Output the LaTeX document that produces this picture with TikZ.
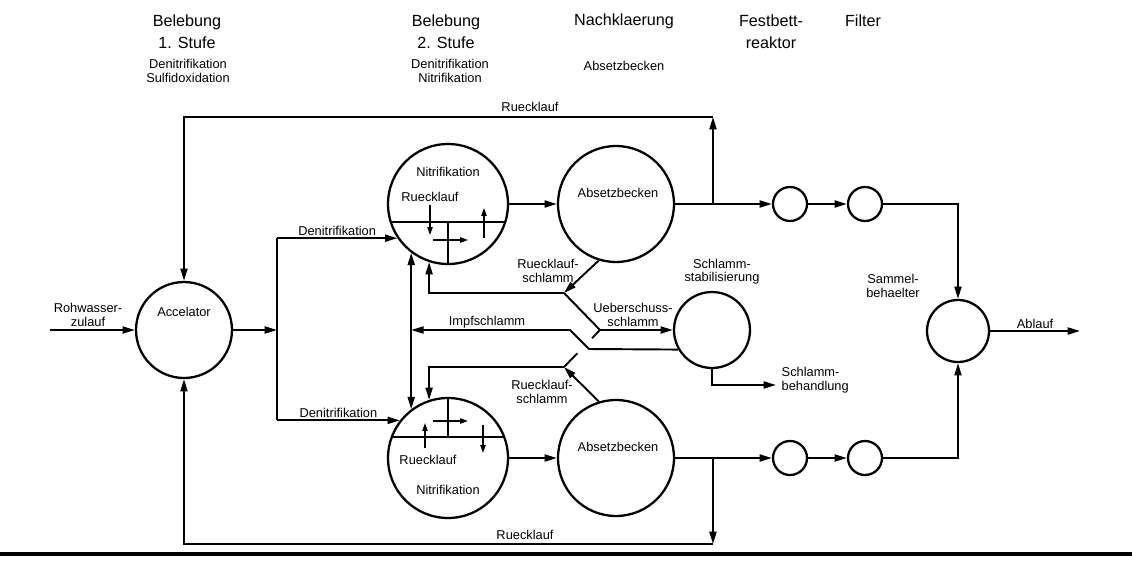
\documentclass[tikz,border=0pt]{standalone}
\usepackage{fontspec}
\setmainfont{Liberation Sans}
\usepackage{tikz}
\usetikzlibrary{arrows.meta,positioning,calc}

\begin{document}
\begin{tikzpicture}[x=0.02cm, y=-0.02cm, line width=1.1pt, >={Triangle[length=7pt,width=4pt]},
  tank node/.style={circle,draw,line width=1.3pt,inner sep=0pt},
  txt/.style={font=\fontsize{7.3}{7.6}\selectfont,align=center,inner sep=1pt},
  head/.style={font=\fontsize{9.2}{12.5}\selectfont,align=center,inner sep=0pt},
  small arrow/.style={->,>={Triangle[length=4.5pt,width=3pt]},line width=0.8pt}]
\useasboundingbox (0,0) rectangle (1132,565);
% headings
\node[head] (h1) at (187,32) {Belebung\\1. Stufe};
\node[txt] (s1) at (188,71) {Denitrifikation\\Sulfidoxidation};
\node[head] (h2) at (446,32) {Belebung\\2. Stufe};
\node[txt] (s2) at (450,71) {Denitrifikation\\Nitrifikation};
\node[head] (h3) at (624,21) {Nachklaerung};
\node[txt] (s3) at (624,66) {Absetzbecken};
\node[head] (h4) at (771,32) {Festbett-\\reaktor};
\node[head] (h5) at (863,21) {Filter};
% tanks
\node[tank node, minimum size=1.92cm] (acc) at (184,330) {};
\node[tank node, minimum size=2.4cm] (nit1) at (448,204) {};
\node[tank node, minimum size=2.4cm] (nit2) at (448,458) {};
\node[tank node, minimum size=2.32cm] (abs1) at (616,204) {};
\node[tank node, minimum size=2.32cm] (abs2) at (616,458) {};
\node[tank node, minimum size=1.52cm] (stab) at (712,330) {};
\node[tank node, minimum size=0.68cm] (fb1) at (790,204) {};
\node[tank node, minimum size=0.68cm] (fi1) at (865,204) {};
\node[tank node, minimum size=0.68cm] (fb2) at (790,458) {};
\node[tank node, minimum size=0.68cm] (fi2) at (865,458) {};
\node[tank node, minimum size=1.24cm] (sam) at (958,331) {};
\begin{scope}[every node/.style={txt}]
\node (acctxt) at (184,312) {Accelator};
\node (nit1txt) at (448,172) {Nitrifikation};
\node (rl1txt) at (430,197) {Ruecklauf};
\node (rl2txt) at (428,460) {Ruecklauf};
\node (nit2txt) at (448,490) {Nitrifikation};
\node (abs1txt) at (618,193) {Absetzbecken};
\node (abs2txt) at (618,447) {Absetzbecken};
\node (rawtxt) at (88,315) {Rohwasser-\\zulauf};
\node (rs1txt) at (548,271) {Ruecklauf-\\schlamm};
\node (rs2txt) at (542,392) {Ruecklauf-\\schlamm};
\node (ustxt) at (633,315) {Ueberschuss-\\schlamm};
\node (imptxt) at (487,322) {Impfschlamm};
\node (stabtxt) at (722,272) {Schlamm-\\stabilisierung};
\node[anchor=west,align=left] (sbtxt) at (779,380) {Schlamm-\\behandlung};
\node (samtxt) at (893,286) {Sammel-\\behaelter};
\node (rtoptxt) at (530,107) {Ruecklauf};
\node (rbottxt) at (525,535) {Ruecklauf};
\end{scope}
% feed and first stage
\coordinate (raw) at (50,330);
\coordinate (split) at (277,330);
\draw[->] (raw) -- (acc);
\draw[->] (acc) -- (split);
\coordinate (dn1) at (split |- nit1.214);
\coordinate (dn2) at (split |- nit2.142);
\draw (dn1) -- (dn2);
\draw[->] (dn1) -- (nit1.214) node[txt, midway, above] {Denitrifikation};
\draw[->] (dn2) -- (nit2.142) node[txt, midway, above] {Denitrifikation};
% main line
\draw[->] (nit1) -- (abs1);
\draw[->] (nit2) -- (abs2);
\draw[->] (abs1) -- (fb1);
\draw[->] (abs2) -- (fb2);
\draw[->] (fb1) -- (fi1);
\draw[->] (fb2) -- (fi2);
\coordinate (c1) at (sam |- fi1);
\coordinate (c2) at (sam |- fi2);
\draw[->] (fi1) -- (c1) -- (sam);
\draw[->] (fi2) -- (c2) -- (sam);
\coordinate (out) at (1080,331);
\draw[->] (sam) -- (out) node[txt, midway, above] {Ablauf};
% recycle
\coordinate (b1) at (713,204);
\coordinate (r1) at (713,117);
\coordinate (r2) at (acc |- r1);
\draw[->] (b1) -- (r1);
\draw[->] (r1) -- (r2) -- (acc);
\coordinate (b2) at (713,458);
\coordinate (r3) at (713,544);
\coordinate (r4) at (acc |- r3);
\draw[->] (b2) -- (r3);
\draw[->] (r3) -- (r4) -- (acc);
% sludge
\draw[<->] (nit1.233) -- (nit2.127);
\coordinate (rs1) at (564,293);
\coordinate (rs2) at (564,367);
\coordinate (us) at (600,330);
\draw[->] (abs1.253) -- (rs1);
\draw[->] (rs1) -| (nit1.252);
\draw[->] (abs2.107) -- (rs2);
\draw[->] (rs2) -| (nit2.108);
\draw (rs1) -- (us);
\draw (rs2) -- ($(rs2)!0.37!(us)$);
\draw ($(rs2)!0.78!(us)$) -- (us);
\draw[->] (us) -- (stab.180);
\coordinate (imp) at (nit1.233 |- us);
\coordinate (ia) at (570,330);
\coordinate (ib) at (589,349);
\draw[->] (stab.210) -- (ib) -- (ia) -- (imp);
\coordinate (sb) at (776,385);
\draw[->] (stab.270) |- (sb);
% inside the nitrification tanks
\draw (nit1.197) -- (nit1.343);
\draw (nit1.270) -- (nit1.270 |- nit1.343);
\draw[small arrow] ([shift={(-18,1)}]nit1.center) -- ++(0,30);
\draw[small arrow] ([shift={(-15,36)}]nit1.center) -- ++(35,0);
\draw[small arrow] ([shift={(36,34)}]nit1.center) -- ++(0,-30);
\draw (nit2.160) -- (nit2.20);
\draw (nit2.90) -- (nit2.90 |- nit2.20);
\draw[small arrow] ([shift={(-23,-10)}]nit2.center) -- ++(0,-25);
\draw[small arrow] ([shift={(-15,-37)}]nit2.center) -- ++(35,0);
\draw[small arrow] ([shift={(35,-33)}]nit2.center) -- ++(0,28);
% rule
\draw[line width=1.8pt] (0,554) -- (1132,554);
\end{tikzpicture}
\end{document}
